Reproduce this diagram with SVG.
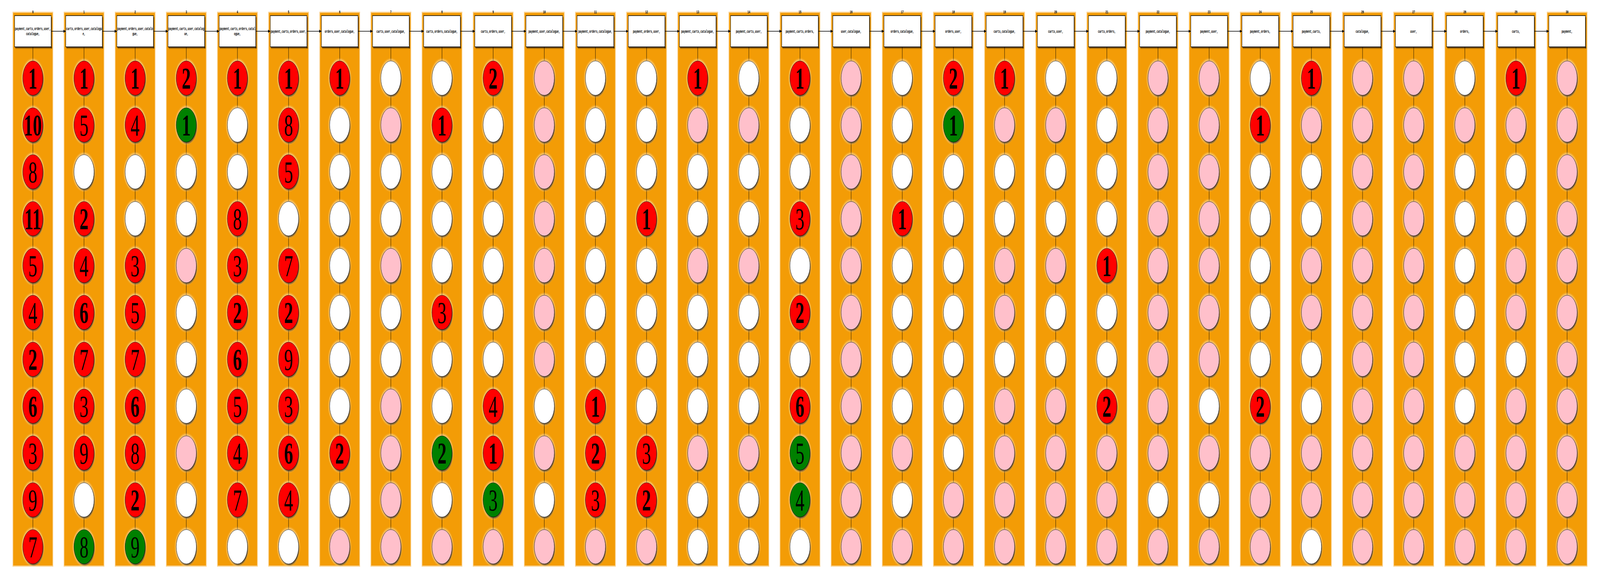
<svg xmlns="http://www.w3.org/2000/svg" xmlns:xlink="http://www.w3.org/1999/xlink" width="7008" height="1480" viewBox="0 0 7008 1480" preserveAspectRatio="none">
<defs>
<style>
svg:root{width:100vw;height:100vh}
.band{fill:#f39c06;stroke:#f39c06;stroke-opacity:.45;stroke-width:6}
.hd{font:bold 10px "Liberation Mono",monospace;text-anchor:middle;fill:#000}
.bx rect.f{fill:#fff;stroke:#000;stroke-width:1.5}
.bx text{font:bold 10px "Liberation Mono",monospace;text-anchor:middle;fill:#000}
.c circle.n{stroke:#000;stroke-width:1}
.r{fill:#ff0000}.g{fill:#008000}.p{fill:#ffc0cb}.w{fill:#ffffff}
.c text{font:78px "Liberation Serif",serif;text-anchor:middle;fill:#000}
.c text.b{font-weight:bold}
.cn{stroke:#000;stroke-width:1;fill:none}
.ar{stroke:#000;stroke-width:1.5;fill:none;marker-end:url(#ah)}
</style>
<radialGradient id="sg"><stop offset=".82" stop-color="#000" stop-opacity=".85"/><stop offset="1" stop-color="#000" stop-opacity="0"/></radialGradient>
<radialGradient id="gl"><stop offset=".84" stop-color="#fff" stop-opacity=".5"/><stop offset="1" stop-color="#fff" stop-opacity="0"/></radialGradient>
<linearGradient id="bsv" x1="0" y1="0" x2="0" y2="1"><stop offset="0" stop-color="#000" stop-opacity=".8"/><stop offset="1" stop-color="#000" stop-opacity="0"/></linearGradient>
<linearGradient id="bsh" x1="0" y1="0" x2="1" y2="0"><stop offset="0" stop-color="#000" stop-opacity=".8"/><stop offset="1" stop-color="#000" stop-opacity="0"/></linearGradient>
<g id="shc"><circle r="52" fill="url(#gl)"/><circle cx="3" cy="4" r="46" fill="url(#sg)"/></g>
<g id="shb"><rect x="-77" y="120" width="160" height="6" fill="url(#bsv)"/><rect x="80" y="44" width="5" height="80" fill="url(#bsh)"/></g>
<marker id="ah" viewBox="0 0 10 8" refX="10" refY="4" markerWidth="10" markerHeight="8" markerUnits="userSpaceOnUse" orient="auto"><path d="M0 0L10 4L0 8z" fill="#000"/></marker>
</defs>
<rect width="7008" height="1480" fill="#fff"/>
<g id="clusters">
<g id="cl0"><rect class="band" x="58" y="33" width="172" height="1415"/><text class="hd" x="144" y="34">0</text></g>
<g id="cl1"><rect class="band" x="282" y="33" width="172" height="1415"/><text class="hd" x="368" y="34">1</text></g>
<g id="cl2"><rect class="band" x="506" y="33" width="172" height="1415"/><text class="hd" x="592" y="34">2</text></g>
<g id="cl3"><rect class="band" x="730" y="33" width="172" height="1415"/><text class="hd" x="816" y="34">3</text></g>
<g id="cl4"><rect class="band" x="954" y="33" width="172" height="1415"/><text class="hd" x="1040" y="34">4</text></g>
<g id="cl5"><rect class="band" x="1178" y="33" width="172" height="1415"/><text class="hd" x="1264" y="34">5</text></g>
<g id="cl6"><rect class="band" x="1402" y="33" width="172" height="1415"/><text class="hd" x="1488" y="34">6</text></g>
<g id="cl7"><rect class="band" x="1626" y="33" width="172" height="1415"/><text class="hd" x="1712" y="34">7</text></g>
<g id="cl8"><rect class="band" x="1850" y="33" width="172" height="1415"/><text class="hd" x="1936" y="34">8</text></g>
<g id="cl9"><rect class="band" x="2074" y="33" width="172" height="1415"/><text class="hd" x="2160" y="34">9</text></g>
<g id="cl10"><rect class="band" x="2298" y="33" width="172" height="1415"/><text class="hd" x="2384" y="34">10</text></g>
<g id="cl11"><rect class="band" x="2522" y="33" width="172" height="1415"/><text class="hd" x="2608" y="34">11</text></g>
<g id="cl12"><rect class="band" x="2746" y="33" width="172" height="1415"/><text class="hd" x="2832" y="34">12</text></g>
<g id="cl13"><rect class="band" x="2970" y="33" width="172" height="1415"/><text class="hd" x="3056" y="34">13</text></g>
<g id="cl14"><rect class="band" x="3194" y="33" width="172" height="1415"/><text class="hd" x="3280" y="34">14</text></g>
<g id="cl15"><rect class="band" x="3418" y="33" width="172" height="1415"/><text class="hd" x="3504" y="34">15</text></g>
<g id="cl16"><rect class="band" x="3642" y="33" width="172" height="1415"/><text class="hd" x="3728" y="34">16</text></g>
<g id="cl17"><rect class="band" x="3866" y="33" width="172" height="1415"/><text class="hd" x="3952" y="34">17</text></g>
<g id="cl18"><rect class="band" x="4090" y="33" width="172" height="1415"/><text class="hd" x="4176" y="34">18</text></g>
<g id="cl19"><rect class="band" x="4314" y="33" width="172" height="1415"/><text class="hd" x="4400" y="34">19</text></g>
<g id="cl20"><rect class="band" x="4538" y="33" width="172" height="1415"/><text class="hd" x="4624" y="34">20</text></g>
<g id="cl21"><rect class="band" x="4762" y="33" width="172" height="1415"/><text class="hd" x="4848" y="34">21</text></g>
<g id="cl22"><rect class="band" x="4986" y="33" width="172" height="1415"/><text class="hd" x="5072" y="34">22</text></g>
<g id="cl23"><rect class="band" x="5210" y="33" width="172" height="1415"/><text class="hd" x="5296" y="34">23</text></g>
<g id="cl24"><rect class="band" x="5434" y="33" width="172" height="1415"/><text class="hd" x="5520" y="34">24</text></g>
<g id="cl25"><rect class="band" x="5658" y="33" width="172" height="1415"/><text class="hd" x="5744" y="34">25</text></g>
<g id="cl26"><rect class="band" x="5882" y="33" width="172" height="1415"/><text class="hd" x="5968" y="34">26</text></g>
<g id="cl27"><rect class="band" x="6106" y="33" width="172" height="1415"/><text class="hd" x="6192" y="34">27</text></g>
<g id="cl28"><rect class="band" x="6330" y="33" width="172" height="1415"/><text class="hd" x="6416" y="34">28</text></g>
<g id="cl29"><rect class="band" x="6554" y="33" width="172" height="1415"/><text class="hd" x="6640" y="34">29</text></g>
<g id="cl30"><rect class="band" x="6778" y="33" width="172" height="1415"/><text class="hd" x="6864" y="34">30</text></g>
</g>
<g id="connectors">
<path class="ar" d="M224 80H288"/><path class="ar" d="M448 80H512"/><path class="ar" d="M672 80H736"/><path class="ar" d="M896 80H960"/><path class="ar" d="M1120 80H1184"/><path class="ar" d="M1344 80H1408"/><path class="ar" d="M1568 80H1632"/><path class="ar" d="M1792 80H1856"/><path class="ar" d="M2016 80H2080"/><path class="ar" d="M2240 80H2304"/><path class="ar" d="M2464 80H2528"/><path class="ar" d="M2688 80H2752"/><path class="ar" d="M2912 80H2976"/><path class="ar" d="M3136 80H3200"/><path class="ar" d="M3360 80H3424"/><path class="ar" d="M3584 80H3648"/><path class="ar" d="M3808 80H3872"/><path class="ar" d="M4032 80H4096"/><path class="ar" d="M4256 80H4320"/><path class="ar" d="M4480 80H4544"/><path class="ar" d="M4704 80H4768"/><path class="ar" d="M4928 80H4992"/><path class="ar" d="M5152 80H5216"/><path class="ar" d="M5376 80H5440"/><path class="ar" d="M5600 80H5664"/><path class="ar" d="M5824 80H5888"/><path class="ar" d="M6048 80H6112"/><path class="ar" d="M6272 80H6336"/><path class="ar" d="M6496 80H6560"/><path class="ar" d="M6720 80H6784"/>
<path class="cn" d="M144 120v36m0 88v32m0 88v32m0 88v32m0 88v32m0 88v32m0 88v32m0 88v32m0 88v32m0 88v32m0 88v32"/>
<path class="cn" d="M368 120v36m0 88v32m0 88v32m0 88v32m0 88v32m0 88v32m0 88v32m0 88v32m0 88v32m0 88v32m0 88v32"/>
<path class="cn" d="M592 120v36m0 88v32m0 88v32m0 88v32m0 88v32m0 88v32m0 88v32m0 88v32m0 88v32m0 88v32m0 88v32"/>
<path class="cn" d="M816 120v36m0 88v32m0 88v32m0 88v32m0 88v32m0 88v32m0 88v32m0 88v32m0 88v32m0 88v32m0 88v32"/>
<path class="cn" d="M1040 120v36m0 88v32m0 88v32m0 88v32m0 88v32m0 88v32m0 88v32m0 88v32m0 88v32m0 88v32m0 88v32"/>
<path class="cn" d="M1264 120v36m0 88v32m0 88v32m0 88v32m0 88v32m0 88v32m0 88v32m0 88v32m0 88v32m0 88v32m0 88v32"/>
<path class="cn" d="M1488 120v36m0 88v32m0 88v32m0 88v32m0 88v32m0 88v32m0 88v32m0 88v32m0 88v32m0 88v32m0 88v32"/>
<path class="cn" d="M1712 120v36m0 88v32m0 88v32m0 88v32m0 88v32m0 88v32m0 88v32m0 88v32m0 88v32m0 88v32m0 88v32"/>
<path class="cn" d="M1936 120v36m0 88v32m0 88v32m0 88v32m0 88v32m0 88v32m0 88v32m0 88v32m0 88v32m0 88v32m0 88v32"/>
<path class="cn" d="M2160 120v36m0 88v32m0 88v32m0 88v32m0 88v32m0 88v32m0 88v32m0 88v32m0 88v32m0 88v32m0 88v32"/>
<path class="cn" d="M2384 120v36m0 88v32m0 88v32m0 88v32m0 88v32m0 88v32m0 88v32m0 88v32m0 88v32m0 88v32m0 88v32"/>
<path class="cn" d="M2608 120v36m0 88v32m0 88v32m0 88v32m0 88v32m0 88v32m0 88v32m0 88v32m0 88v32m0 88v32m0 88v32"/>
<path class="cn" d="M2832 120v36m0 88v32m0 88v32m0 88v32m0 88v32m0 88v32m0 88v32m0 88v32m0 88v32m0 88v32m0 88v32"/>
<path class="cn" d="M3056 120v36m0 88v32m0 88v32m0 88v32m0 88v32m0 88v32m0 88v32m0 88v32m0 88v32m0 88v32m0 88v32"/>
<path class="cn" d="M3280 120v36m0 88v32m0 88v32m0 88v32m0 88v32m0 88v32m0 88v32m0 88v32m0 88v32m0 88v32m0 88v32"/>
<path class="cn" d="M3504 120v36m0 88v32m0 88v32m0 88v32m0 88v32m0 88v32m0 88v32m0 88v32m0 88v32m0 88v32m0 88v32"/>
<path class="cn" d="M3728 120v36m0 88v32m0 88v32m0 88v32m0 88v32m0 88v32m0 88v32m0 88v32m0 88v32m0 88v32m0 88v32"/>
<path class="cn" d="M3952 120v36m0 88v32m0 88v32m0 88v32m0 88v32m0 88v32m0 88v32m0 88v32m0 88v32m0 88v32m0 88v32"/>
<path class="cn" d="M4176 120v36m0 88v32m0 88v32m0 88v32m0 88v32m0 88v32m0 88v32m0 88v32m0 88v32m0 88v32m0 88v32"/>
<path class="cn" d="M4400 120v36m0 88v32m0 88v32m0 88v32m0 88v32m0 88v32m0 88v32m0 88v32m0 88v32m0 88v32m0 88v32"/>
<path class="cn" d="M4624 120v36m0 88v32m0 88v32m0 88v32m0 88v32m0 88v32m0 88v32m0 88v32m0 88v32m0 88v32m0 88v32"/>
<path class="cn" d="M4848 120v36m0 88v32m0 88v32m0 88v32m0 88v32m0 88v32m0 88v32m0 88v32m0 88v32m0 88v32m0 88v32"/>
<path class="cn" d="M5072 120v36m0 88v32m0 88v32m0 88v32m0 88v32m0 88v32m0 88v32m0 88v32m0 88v32m0 88v32m0 88v32"/>
<path class="cn" d="M5296 120v36m0 88v32m0 88v32m0 88v32m0 88v32m0 88v32m0 88v32m0 88v32m0 88v32m0 88v32m0 88v32"/>
<path class="cn" d="M5520 120v36m0 88v32m0 88v32m0 88v32m0 88v32m0 88v32m0 88v32m0 88v32m0 88v32m0 88v32m0 88v32"/>
<path class="cn" d="M5744 120v36m0 88v32m0 88v32m0 88v32m0 88v32m0 88v32m0 88v32m0 88v32m0 88v32m0 88v32m0 88v32"/>
<path class="cn" d="M5968 120v36m0 88v32m0 88v32m0 88v32m0 88v32m0 88v32m0 88v32m0 88v32m0 88v32m0 88v32m0 88v32"/>
<path class="cn" d="M6192 120v36m0 88v32m0 88v32m0 88v32m0 88v32m0 88v32m0 88v32m0 88v32m0 88v32m0 88v32m0 88v32"/>
<path class="cn" d="M6416 120v36m0 88v32m0 88v32m0 88v32m0 88v32m0 88v32m0 88v32m0 88v32m0 88v32m0 88v32m0 88v32"/>
<path class="cn" d="M6640 120v36m0 88v32m0 88v32m0 88v32m0 88v32m0 88v32m0 88v32m0 88v32m0 88v32m0 88v32m0 88v32"/>
<path class="cn" d="M6864 120v36m0 88v32m0 88v32m0 88v32m0 88v32m0 88v32m0 88v32m0 88v32m0 88v32m0 88v32m0 88v32"/>
</g>
<g id="boxes">
<g id="box0" class="bx" transform="translate(144 0)"><use href="#shb" xlink:href="#shb"/><rect class="f" x="-80" y="40" width="160" height="80"/><text y="77">payment,carts,orders,user,</text><text y="90.5">catalogue,</text></g>
<g id="box1" class="bx" transform="translate(368 0)"><use href="#shb" xlink:href="#shb"/><rect class="f" x="-80" y="40" width="160" height="80"/><text y="77">carts,orders,user,catalogu</text><text y="90.5">e,</text></g>
<g id="box2" class="bx" transform="translate(592 0)"><use href="#shb" xlink:href="#shb"/><rect class="f" x="-80" y="40" width="160" height="80"/><text y="77">payment,orders,user,catalo</text><text y="90.5">gue,</text></g>
<g id="box3" class="bx" transform="translate(816 0)"><use href="#shb" xlink:href="#shb"/><rect class="f" x="-80" y="40" width="160" height="80"/><text y="77">payment,carts,user,catalog</text><text y="90.5">ue,</text></g>
<g id="box4" class="bx" transform="translate(1040 0)"><use href="#shb" xlink:href="#shb"/><rect class="f" x="-80" y="40" width="160" height="80"/><text y="77">payment,carts,orders,catal</text><text y="90.5">ogue,</text></g>
<g id="box5" class="bx" transform="translate(1264 0)"><use href="#shb" xlink:href="#shb"/><rect class="f" x="-80" y="40" width="160" height="80"/><text y="84">payment,carts,orders,user,</text></g>
<g id="box6" class="bx" transform="translate(1488 0)"><use href="#shb" xlink:href="#shb"/><rect class="f" x="-80" y="40" width="160" height="80"/><text y="84">orders,user,catalogue,</text></g>
<g id="box7" class="bx" transform="translate(1712 0)"><use href="#shb" xlink:href="#shb"/><rect class="f" x="-80" y="40" width="160" height="80"/><text y="84">carts,user,catalogue,</text></g>
<g id="box8" class="bx" transform="translate(1936 0)"><use href="#shb" xlink:href="#shb"/><rect class="f" x="-80" y="40" width="160" height="80"/><text y="84">carts,orders,catalogue,</text></g>
<g id="box9" class="bx" transform="translate(2160 0)"><use href="#shb" xlink:href="#shb"/><rect class="f" x="-80" y="40" width="160" height="80"/><text y="84">carts,orders,user,</text></g>
<g id="box10" class="bx" transform="translate(2384 0)"><use href="#shb" xlink:href="#shb"/><rect class="f" x="-80" y="40" width="160" height="80"/><text y="84">payment,user,catalogue,</text></g>
<g id="box11" class="bx" transform="translate(2608 0)"><use href="#shb" xlink:href="#shb"/><rect class="f" x="-80" y="40" width="160" height="80"/><text y="84">payment,orders,catalogue,</text></g>
<g id="box12" class="bx" transform="translate(2832 0)"><use href="#shb" xlink:href="#shb"/><rect class="f" x="-80" y="40" width="160" height="80"/><text y="84">payment,orders,user,</text></g>
<g id="box13" class="bx" transform="translate(3056 0)"><use href="#shb" xlink:href="#shb"/><rect class="f" x="-80" y="40" width="160" height="80"/><text y="84">payment,carts,catalogue,</text></g>
<g id="box14" class="bx" transform="translate(3280 0)"><use href="#shb" xlink:href="#shb"/><rect class="f" x="-80" y="40" width="160" height="80"/><text y="84">payment,carts,user,</text></g>
<g id="box15" class="bx" transform="translate(3504 0)"><use href="#shb" xlink:href="#shb"/><rect class="f" x="-80" y="40" width="160" height="80"/><text y="84">payment,carts,orders,</text></g>
<g id="box16" class="bx" transform="translate(3728 0)"><use href="#shb" xlink:href="#shb"/><rect class="f" x="-80" y="40" width="160" height="80"/><text y="84">user,catalogue,</text></g>
<g id="box17" class="bx" transform="translate(3952 0)"><use href="#shb" xlink:href="#shb"/><rect class="f" x="-80" y="40" width="160" height="80"/><text y="84">orders,catalogue,</text></g>
<g id="box18" class="bx" transform="translate(4176 0)"><use href="#shb" xlink:href="#shb"/><rect class="f" x="-80" y="40" width="160" height="80"/><text y="84">orders,user,</text></g>
<g id="box19" class="bx" transform="translate(4400 0)"><use href="#shb" xlink:href="#shb"/><rect class="f" x="-80" y="40" width="160" height="80"/><text y="84">carts,catalogue,</text></g>
<g id="box20" class="bx" transform="translate(4624 0)"><use href="#shb" xlink:href="#shb"/><rect class="f" x="-80" y="40" width="160" height="80"/><text y="84">carts,user,</text></g>
<g id="box21" class="bx" transform="translate(4848 0)"><use href="#shb" xlink:href="#shb"/><rect class="f" x="-80" y="40" width="160" height="80"/><text y="84">carts,orders,</text></g>
<g id="box22" class="bx" transform="translate(5072 0)"><use href="#shb" xlink:href="#shb"/><rect class="f" x="-80" y="40" width="160" height="80"/><text y="84">payment,catalogue,</text></g>
<g id="box23" class="bx" transform="translate(5296 0)"><use href="#shb" xlink:href="#shb"/><rect class="f" x="-80" y="40" width="160" height="80"/><text y="84">payment,user,</text></g>
<g id="box24" class="bx" transform="translate(5520 0)"><use href="#shb" xlink:href="#shb"/><rect class="f" x="-80" y="40" width="160" height="80"/><text y="84">payment,orders,</text></g>
<g id="box25" class="bx" transform="translate(5744 0)"><use href="#shb" xlink:href="#shb"/><rect class="f" x="-80" y="40" width="160" height="80"/><text y="84">payment,carts,</text></g>
<g id="box26" class="bx" transform="translate(5968 0)"><use href="#shb" xlink:href="#shb"/><rect class="f" x="-80" y="40" width="160" height="80"/><text y="84">catalogue,</text></g>
<g id="box27" class="bx" transform="translate(6192 0)"><use href="#shb" xlink:href="#shb"/><rect class="f" x="-80" y="40" width="160" height="80"/><text y="84">user,</text></g>
<g id="box28" class="bx" transform="translate(6416 0)"><use href="#shb" xlink:href="#shb"/><rect class="f" x="-80" y="40" width="160" height="80"/><text y="84">orders,</text></g>
<g id="box29" class="bx" transform="translate(6640 0)"><use href="#shb" xlink:href="#shb"/><rect class="f" x="-80" y="40" width="160" height="80"/><text y="84">carts,</text></g>
<g id="box30" class="bx" transform="translate(6864 0)"><use href="#shb" xlink:href="#shb"/><rect class="f" x="-80" y="40" width="160" height="80"/><text y="84">payment,</text></g>
</g>
<g id="circles">
<g id="n0-0" class="c" transform="translate(144 200)"><use href="#shc" xlink:href="#shc"/><circle class="n r" r="44"/><text class="b" y="27">1</text></g>
<g id="n0-1" class="c" transform="translate(144 320)"><use href="#shc" xlink:href="#shc"/><circle class="n r" r="44"/><text class="b" y="27">10</text></g>
<g id="n0-2" class="c" transform="translate(144 440)"><use href="#shc" xlink:href="#shc"/><circle class="n r" r="44"/><text y="27">8</text></g>
<g id="n0-3" class="c" transform="translate(144 560)"><use href="#shc" xlink:href="#shc"/><circle class="n r" r="44"/><text class="b" y="27">11</text></g>
<g id="n0-4" class="c" transform="translate(144 680)"><use href="#shc" xlink:href="#shc"/><circle class="n r" r="44"/><text y="27">5</text></g>
<g id="n0-5" class="c" transform="translate(144 800)"><use href="#shc" xlink:href="#shc"/><circle class="n r" r="44"/><text y="27">4</text></g>
<g id="n0-6" class="c" transform="translate(144 920)"><use href="#shc" xlink:href="#shc"/><circle class="n r" r="44"/><text class="b" y="27">2</text></g>
<g id="n0-7" class="c" transform="translate(144 1040)"><use href="#shc" xlink:href="#shc"/><circle class="n r" r="44"/><text class="b" y="27">6</text></g>
<g id="n0-8" class="c" transform="translate(144 1160)"><use href="#shc" xlink:href="#shc"/><circle class="n r" r="44"/><text y="27">3</text></g>
<g id="n0-9" class="c" transform="translate(144 1280)"><use href="#shc" xlink:href="#shc"/><circle class="n r" r="44"/><text y="27">9</text></g>
<g id="n0-10" class="c" transform="translate(144 1400)"><use href="#shc" xlink:href="#shc"/><circle class="n r" r="44"/><text y="27">7</text></g>
<g id="n1-0" class="c" transform="translate(368 200)"><use href="#shc" xlink:href="#shc"/><circle class="n r" r="44"/><text class="b" y="27">1</text></g>
<g id="n1-1" class="c" transform="translate(368 320)"><use href="#shc" xlink:href="#shc"/><circle class="n r" r="44"/><text y="27">5</text></g>
<g id="n1-2" class="c" transform="translate(368 440)"><use href="#shc" xlink:href="#shc"/><circle class="n w" r="44"/></g>
<g id="n1-3" class="c" transform="translate(368 560)"><use href="#shc" xlink:href="#shc"/><circle class="n r" r="44"/><text class="b" y="27">2</text></g>
<g id="n1-4" class="c" transform="translate(368 680)"><use href="#shc" xlink:href="#shc"/><circle class="n r" r="44"/><text y="27">4</text></g>
<g id="n1-5" class="c" transform="translate(368 800)"><use href="#shc" xlink:href="#shc"/><circle class="n r" r="44"/><text class="b" y="27">6</text></g>
<g id="n1-6" class="c" transform="translate(368 920)"><use href="#shc" xlink:href="#shc"/><circle class="n r" r="44"/><text y="27">7</text></g>
<g id="n1-7" class="c" transform="translate(368 1040)"><use href="#shc" xlink:href="#shc"/><circle class="n r" r="44"/><text y="27">3</text></g>
<g id="n1-8" class="c" transform="translate(368 1160)"><use href="#shc" xlink:href="#shc"/><circle class="n r" r="44"/><text y="27">9</text></g>
<g id="n1-9" class="c" transform="translate(368 1280)"><use href="#shc" xlink:href="#shc"/><circle class="n w" r="44"/></g>
<g id="n1-10" class="c" transform="translate(368 1400)"><use href="#shc" xlink:href="#shc"/><circle class="n g" r="44"/><text y="27">8</text></g>
<g id="n2-0" class="c" transform="translate(592 200)"><use href="#shc" xlink:href="#shc"/><circle class="n r" r="44"/><text class="b" y="27">1</text></g>
<g id="n2-1" class="c" transform="translate(592 320)"><use href="#shc" xlink:href="#shc"/><circle class="n r" r="44"/><text y="27">4</text></g>
<g id="n2-2" class="c" transform="translate(592 440)"><use href="#shc" xlink:href="#shc"/><circle class="n w" r="44"/></g>
<g id="n2-3" class="c" transform="translate(592 560)"><use href="#shc" xlink:href="#shc"/><circle class="n w" r="44"/></g>
<g id="n2-4" class="c" transform="translate(592 680)"><use href="#shc" xlink:href="#shc"/><circle class="n r" r="44"/><text y="27">3</text></g>
<g id="n2-5" class="c" transform="translate(592 800)"><use href="#shc" xlink:href="#shc"/><circle class="n r" r="44"/><text y="27">5</text></g>
<g id="n2-6" class="c" transform="translate(592 920)"><use href="#shc" xlink:href="#shc"/><circle class="n r" r="44"/><text y="27">7</text></g>
<g id="n2-7" class="c" transform="translate(592 1040)"><use href="#shc" xlink:href="#shc"/><circle class="n r" r="44"/><text class="b" y="27">6</text></g>
<g id="n2-8" class="c" transform="translate(592 1160)"><use href="#shc" xlink:href="#shc"/><circle class="n r" r="44"/><text y="27">8</text></g>
<g id="n2-9" class="c" transform="translate(592 1280)"><use href="#shc" xlink:href="#shc"/><circle class="n r" r="44"/><text class="b" y="27">2</text></g>
<g id="n2-10" class="c" transform="translate(592 1400)"><use href="#shc" xlink:href="#shc"/><circle class="n g" r="44"/><text y="27">9</text></g>
<g id="n3-0" class="c" transform="translate(816 200)"><use href="#shc" xlink:href="#shc"/><circle class="n r" r="44"/><text class="b" y="27">2</text></g>
<g id="n3-1" class="c" transform="translate(816 320)"><use href="#shc" xlink:href="#shc"/><circle class="n g" r="44"/><text class="b" y="27">1</text></g>
<g id="n3-2" class="c" transform="translate(816 440)"><use href="#shc" xlink:href="#shc"/><circle class="n w" r="44"/></g>
<g id="n3-3" class="c" transform="translate(816 560)"><use href="#shc" xlink:href="#shc"/><circle class="n w" r="44"/></g>
<g id="n3-4" class="c" transform="translate(816 680)"><use href="#shc" xlink:href="#shc"/><circle class="n p" r="44"/></g>
<g id="n3-5" class="c" transform="translate(816 800)"><use href="#shc" xlink:href="#shc"/><circle class="n w" r="44"/></g>
<g id="n3-6" class="c" transform="translate(816 920)"><use href="#shc" xlink:href="#shc"/><circle class="n w" r="44"/></g>
<g id="n3-7" class="c" transform="translate(816 1040)"><use href="#shc" xlink:href="#shc"/><circle class="n w" r="44"/></g>
<g id="n3-8" class="c" transform="translate(816 1160)"><use href="#shc" xlink:href="#shc"/><circle class="n p" r="44"/></g>
<g id="n3-9" class="c" transform="translate(816 1280)"><use href="#shc" xlink:href="#shc"/><circle class="n w" r="44"/></g>
<g id="n3-10" class="c" transform="translate(816 1400)"><use href="#shc" xlink:href="#shc"/><circle class="n w" r="44"/></g>
<g id="n4-0" class="c" transform="translate(1040 200)"><use href="#shc" xlink:href="#shc"/><circle class="n r" r="44"/><text class="b" y="27">1</text></g>
<g id="n4-1" class="c" transform="translate(1040 320)"><use href="#shc" xlink:href="#shc"/><circle class="n w" r="44"/></g>
<g id="n4-2" class="c" transform="translate(1040 440)"><use href="#shc" xlink:href="#shc"/><circle class="n w" r="44"/></g>
<g id="n4-3" class="c" transform="translate(1040 560)"><use href="#shc" xlink:href="#shc"/><circle class="n r" r="44"/><text y="27">8</text></g>
<g id="n4-4" class="c" transform="translate(1040 680)"><use href="#shc" xlink:href="#shc"/><circle class="n r" r="44"/><text y="27">3</text></g>
<g id="n4-5" class="c" transform="translate(1040 800)"><use href="#shc" xlink:href="#shc"/><circle class="n r" r="44"/><text class="b" y="27">2</text></g>
<g id="n4-6" class="c" transform="translate(1040 920)"><use href="#shc" xlink:href="#shc"/><circle class="n r" r="44"/><text class="b" y="27">6</text></g>
<g id="n4-7" class="c" transform="translate(1040 1040)"><use href="#shc" xlink:href="#shc"/><circle class="n r" r="44"/><text y="27">5</text></g>
<g id="n4-8" class="c" transform="translate(1040 1160)"><use href="#shc" xlink:href="#shc"/><circle class="n r" r="44"/><text y="27">4</text></g>
<g id="n4-9" class="c" transform="translate(1040 1280)"><use href="#shc" xlink:href="#shc"/><circle class="n r" r="44"/><text y="27">7</text></g>
<g id="n4-10" class="c" transform="translate(1040 1400)"><use href="#shc" xlink:href="#shc"/><circle class="n w" r="44"/></g>
<g id="n5-0" class="c" transform="translate(1264 200)"><use href="#shc" xlink:href="#shc"/><circle class="n r" r="44"/><text class="b" y="27">1</text></g>
<g id="n5-1" class="c" transform="translate(1264 320)"><use href="#shc" xlink:href="#shc"/><circle class="n r" r="44"/><text y="27">8</text></g>
<g id="n5-2" class="c" transform="translate(1264 440)"><use href="#shc" xlink:href="#shc"/><circle class="n r" r="44"/><text y="27">5</text></g>
<g id="n5-3" class="c" transform="translate(1264 560)"><use href="#shc" xlink:href="#shc"/><circle class="n w" r="44"/></g>
<g id="n5-4" class="c" transform="translate(1264 680)"><use href="#shc" xlink:href="#shc"/><circle class="n r" r="44"/><text y="27">7</text></g>
<g id="n5-5" class="c" transform="translate(1264 800)"><use href="#shc" xlink:href="#shc"/><circle class="n r" r="44"/><text class="b" y="27">2</text></g>
<g id="n5-6" class="c" transform="translate(1264 920)"><use href="#shc" xlink:href="#shc"/><circle class="n r" r="44"/><text y="27">9</text></g>
<g id="n5-7" class="c" transform="translate(1264 1040)"><use href="#shc" xlink:href="#shc"/><circle class="n r" r="44"/><text y="27">3</text></g>
<g id="n5-8" class="c" transform="translate(1264 1160)"><use href="#shc" xlink:href="#shc"/><circle class="n r" r="44"/><text class="b" y="27">6</text></g>
<g id="n5-9" class="c" transform="translate(1264 1280)"><use href="#shc" xlink:href="#shc"/><circle class="n r" r="44"/><text y="27">4</text></g>
<g id="n5-10" class="c" transform="translate(1264 1400)"><use href="#shc" xlink:href="#shc"/><circle class="n w" r="44"/></g>
<g id="n6-0" class="c" transform="translate(1488 200)"><use href="#shc" xlink:href="#shc"/><circle class="n r" r="44"/><text class="b" y="27">1</text></g>
<g id="n6-1" class="c" transform="translate(1488 320)"><use href="#shc" xlink:href="#shc"/><circle class="n w" r="44"/></g>
<g id="n6-2" class="c" transform="translate(1488 440)"><use href="#shc" xlink:href="#shc"/><circle class="n w" r="44"/></g>
<g id="n6-3" class="c" transform="translate(1488 560)"><use href="#shc" xlink:href="#shc"/><circle class="n w" r="44"/></g>
<g id="n6-4" class="c" transform="translate(1488 680)"><use href="#shc" xlink:href="#shc"/><circle class="n w" r="44"/></g>
<g id="n6-5" class="c" transform="translate(1488 800)"><use href="#shc" xlink:href="#shc"/><circle class="n w" r="44"/></g>
<g id="n6-6" class="c" transform="translate(1488 920)"><use href="#shc" xlink:href="#shc"/><circle class="n w" r="44"/></g>
<g id="n6-7" class="c" transform="translate(1488 1040)"><use href="#shc" xlink:href="#shc"/><circle class="n w" r="44"/></g>
<g id="n6-8" class="c" transform="translate(1488 1160)"><use href="#shc" xlink:href="#shc"/><circle class="n r" r="44"/><text class="b" y="27">2</text></g>
<g id="n6-9" class="c" transform="translate(1488 1280)"><use href="#shc" xlink:href="#shc"/><circle class="n w" r="44"/></g>
<g id="n6-10" class="c" transform="translate(1488 1400)"><use href="#shc" xlink:href="#shc"/><circle class="n p" r="44"/></g>
<g id="n7-0" class="c" transform="translate(1712 200)"><use href="#shc" xlink:href="#shc"/><circle class="n w" r="44"/></g>
<g id="n7-1" class="c" transform="translate(1712 320)"><use href="#shc" xlink:href="#shc"/><circle class="n p" r="44"/></g>
<g id="n7-2" class="c" transform="translate(1712 440)"><use href="#shc" xlink:href="#shc"/><circle class="n w" r="44"/></g>
<g id="n7-3" class="c" transform="translate(1712 560)"><use href="#shc" xlink:href="#shc"/><circle class="n w" r="44"/></g>
<g id="n7-4" class="c" transform="translate(1712 680)"><use href="#shc" xlink:href="#shc"/><circle class="n p" r="44"/></g>
<g id="n7-5" class="c" transform="translate(1712 800)"><use href="#shc" xlink:href="#shc"/><circle class="n w" r="44"/></g>
<g id="n7-6" class="c" transform="translate(1712 920)"><use href="#shc" xlink:href="#shc"/><circle class="n w" r="44"/></g>
<g id="n7-7" class="c" transform="translate(1712 1040)"><use href="#shc" xlink:href="#shc"/><circle class="n p" r="44"/></g>
<g id="n7-8" class="c" transform="translate(1712 1160)"><use href="#shc" xlink:href="#shc"/><circle class="n p" r="44"/></g>
<g id="n7-9" class="c" transform="translate(1712 1280)"><use href="#shc" xlink:href="#shc"/><circle class="n p" r="44"/></g>
<g id="n7-10" class="c" transform="translate(1712 1400)"><use href="#shc" xlink:href="#shc"/><circle class="n p" r="44"/></g>
<g id="n8-0" class="c" transform="translate(1936 200)"><use href="#shc" xlink:href="#shc"/><circle class="n w" r="44"/></g>
<g id="n8-1" class="c" transform="translate(1936 320)"><use href="#shc" xlink:href="#shc"/><circle class="n r" r="44"/><text class="b" y="27">1</text></g>
<g id="n8-2" class="c" transform="translate(1936 440)"><use href="#shc" xlink:href="#shc"/><circle class="n w" r="44"/></g>
<g id="n8-3" class="c" transform="translate(1936 560)"><use href="#shc" xlink:href="#shc"/><circle class="n w" r="44"/></g>
<g id="n8-4" class="c" transform="translate(1936 680)"><use href="#shc" xlink:href="#shc"/><circle class="n w" r="44"/></g>
<g id="n8-5" class="c" transform="translate(1936 800)"><use href="#shc" xlink:href="#shc"/><circle class="n r" r="44"/><text y="27">3</text></g>
<g id="n8-6" class="c" transform="translate(1936 920)"><use href="#shc" xlink:href="#shc"/><circle class="n w" r="44"/></g>
<g id="n8-7" class="c" transform="translate(1936 1040)"><use href="#shc" xlink:href="#shc"/><circle class="n w" r="44"/></g>
<g id="n8-8" class="c" transform="translate(1936 1160)"><use href="#shc" xlink:href="#shc"/><circle class="n g" r="44"/><text class="b" y="27">2</text></g>
<g id="n8-9" class="c" transform="translate(1936 1280)"><use href="#shc" xlink:href="#shc"/><circle class="n w" r="44"/></g>
<g id="n8-10" class="c" transform="translate(1936 1400)"><use href="#shc" xlink:href="#shc"/><circle class="n p" r="44"/></g>
<g id="n9-0" class="c" transform="translate(2160 200)"><use href="#shc" xlink:href="#shc"/><circle class="n r" r="44"/><text class="b" y="27">2</text></g>
<g id="n9-1" class="c" transform="translate(2160 320)"><use href="#shc" xlink:href="#shc"/><circle class="n w" r="44"/></g>
<g id="n9-2" class="c" transform="translate(2160 440)"><use href="#shc" xlink:href="#shc"/><circle class="n w" r="44"/></g>
<g id="n9-3" class="c" transform="translate(2160 560)"><use href="#shc" xlink:href="#shc"/><circle class="n w" r="44"/></g>
<g id="n9-4" class="c" transform="translate(2160 680)"><use href="#shc" xlink:href="#shc"/><circle class="n w" r="44"/></g>
<g id="n9-5" class="c" transform="translate(2160 800)"><use href="#shc" xlink:href="#shc"/><circle class="n w" r="44"/></g>
<g id="n9-6" class="c" transform="translate(2160 920)"><use href="#shc" xlink:href="#shc"/><circle class="n w" r="44"/></g>
<g id="n9-7" class="c" transform="translate(2160 1040)"><use href="#shc" xlink:href="#shc"/><circle class="n r" r="44"/><text y="27">4</text></g>
<g id="n9-8" class="c" transform="translate(2160 1160)"><use href="#shc" xlink:href="#shc"/><circle class="n r" r="44"/><text class="b" y="27">1</text></g>
<g id="n9-9" class="c" transform="translate(2160 1280)"><use href="#shc" xlink:href="#shc"/><circle class="n g" r="44"/><text y="27">3</text></g>
<g id="n9-10" class="c" transform="translate(2160 1400)"><use href="#shc" xlink:href="#shc"/><circle class="n p" r="44"/></g>
<g id="n10-0" class="c" transform="translate(2384 200)"><use href="#shc" xlink:href="#shc"/><circle class="n p" r="44"/></g>
<g id="n10-1" class="c" transform="translate(2384 320)"><use href="#shc" xlink:href="#shc"/><circle class="n p" r="44"/></g>
<g id="n10-2" class="c" transform="translate(2384 440)"><use href="#shc" xlink:href="#shc"/><circle class="n p" r="44"/></g>
<g id="n10-3" class="c" transform="translate(2384 560)"><use href="#shc" xlink:href="#shc"/><circle class="n p" r="44"/></g>
<g id="n10-4" class="c" transform="translate(2384 680)"><use href="#shc" xlink:href="#shc"/><circle class="n p" r="44"/></g>
<g id="n10-5" class="c" transform="translate(2384 800)"><use href="#shc" xlink:href="#shc"/><circle class="n p" r="44"/></g>
<g id="n10-6" class="c" transform="translate(2384 920)"><use href="#shc" xlink:href="#shc"/><circle class="n p" r="44"/></g>
<g id="n10-7" class="c" transform="translate(2384 1040)"><use href="#shc" xlink:href="#shc"/><circle class="n w" r="44"/></g>
<g id="n10-8" class="c" transform="translate(2384 1160)"><use href="#shc" xlink:href="#shc"/><circle class="n p" r="44"/></g>
<g id="n10-9" class="c" transform="translate(2384 1280)"><use href="#shc" xlink:href="#shc"/><circle class="n w" r="44"/></g>
<g id="n10-10" class="c" transform="translate(2384 1400)"><use href="#shc" xlink:href="#shc"/><circle class="n p" r="44"/></g>
<g id="n11-0" class="c" transform="translate(2608 200)"><use href="#shc" xlink:href="#shc"/><circle class="n w" r="44"/></g>
<g id="n11-1" class="c" transform="translate(2608 320)"><use href="#shc" xlink:href="#shc"/><circle class="n w" r="44"/></g>
<g id="n11-2" class="c" transform="translate(2608 440)"><use href="#shc" xlink:href="#shc"/><circle class="n w" r="44"/></g>
<g id="n11-3" class="c" transform="translate(2608 560)"><use href="#shc" xlink:href="#shc"/><circle class="n w" r="44"/></g>
<g id="n11-4" class="c" transform="translate(2608 680)"><use href="#shc" xlink:href="#shc"/><circle class="n w" r="44"/></g>
<g id="n11-5" class="c" transform="translate(2608 800)"><use href="#shc" xlink:href="#shc"/><circle class="n w" r="44"/></g>
<g id="n11-6" class="c" transform="translate(2608 920)"><use href="#shc" xlink:href="#shc"/><circle class="n w" r="44"/></g>
<g id="n11-7" class="c" transform="translate(2608 1040)"><use href="#shc" xlink:href="#shc"/><circle class="n r" r="44"/><text class="b" y="27">1</text></g>
<g id="n11-8" class="c" transform="translate(2608 1160)"><use href="#shc" xlink:href="#shc"/><circle class="n r" r="44"/><text class="b" y="27">2</text></g>
<g id="n11-9" class="c" transform="translate(2608 1280)"><use href="#shc" xlink:href="#shc"/><circle class="n r" r="44"/><text y="27">3</text></g>
<g id="n11-10" class="c" transform="translate(2608 1400)"><use href="#shc" xlink:href="#shc"/><circle class="n p" r="44"/></g>
<g id="n12-0" class="c" transform="translate(2832 200)"><use href="#shc" xlink:href="#shc"/><circle class="n w" r="44"/></g>
<g id="n12-1" class="c" transform="translate(2832 320)"><use href="#shc" xlink:href="#shc"/><circle class="n w" r="44"/></g>
<g id="n12-2" class="c" transform="translate(2832 440)"><use href="#shc" xlink:href="#shc"/><circle class="n w" r="44"/></g>
<g id="n12-3" class="c" transform="translate(2832 560)"><use href="#shc" xlink:href="#shc"/><circle class="n r" r="44"/><text class="b" y="27">1</text></g>
<g id="n12-4" class="c" transform="translate(2832 680)"><use href="#shc" xlink:href="#shc"/><circle class="n w" r="44"/></g>
<g id="n12-5" class="c" transform="translate(2832 800)"><use href="#shc" xlink:href="#shc"/><circle class="n w" r="44"/></g>
<g id="n12-6" class="c" transform="translate(2832 920)"><use href="#shc" xlink:href="#shc"/><circle class="n w" r="44"/></g>
<g id="n12-7" class="c" transform="translate(2832 1040)"><use href="#shc" xlink:href="#shc"/><circle class="n w" r="44"/></g>
<g id="n12-8" class="c" transform="translate(2832 1160)"><use href="#shc" xlink:href="#shc"/><circle class="n r" r="44"/><text y="27">3</text></g>
<g id="n12-9" class="c" transform="translate(2832 1280)"><use href="#shc" xlink:href="#shc"/><circle class="n r" r="44"/><text class="b" y="27">2</text></g>
<g id="n12-10" class="c" transform="translate(2832 1400)"><use href="#shc" xlink:href="#shc"/><circle class="n p" r="44"/></g>
<g id="n13-0" class="c" transform="translate(3056 200)"><use href="#shc" xlink:href="#shc"/><circle class="n r" r="44"/><text class="b" y="27">1</text></g>
<g id="n13-1" class="c" transform="translate(3056 320)"><use href="#shc" xlink:href="#shc"/><circle class="n p" r="44"/></g>
<g id="n13-2" class="c" transform="translate(3056 440)"><use href="#shc" xlink:href="#shc"/><circle class="n w" r="44"/></g>
<g id="n13-3" class="c" transform="translate(3056 560)"><use href="#shc" xlink:href="#shc"/><circle class="n w" r="44"/></g>
<g id="n13-4" class="c" transform="translate(3056 680)"><use href="#shc" xlink:href="#shc"/><circle class="n p" r="44"/></g>
<g id="n13-5" class="c" transform="translate(3056 800)"><use href="#shc" xlink:href="#shc"/><circle class="n w" r="44"/></g>
<g id="n13-6" class="c" transform="translate(3056 920)"><use href="#shc" xlink:href="#shc"/><circle class="n w" r="44"/></g>
<g id="n13-7" class="c" transform="translate(3056 1040)"><use href="#shc" xlink:href="#shc"/><circle class="n w" r="44"/></g>
<g id="n13-8" class="c" transform="translate(3056 1160)"><use href="#shc" xlink:href="#shc"/><circle class="n p" r="44"/></g>
<g id="n13-9" class="c" transform="translate(3056 1280)"><use href="#shc" xlink:href="#shc"/><circle class="n w" r="44"/></g>
<g id="n13-10" class="c" transform="translate(3056 1400)"><use href="#shc" xlink:href="#shc"/><circle class="n w" r="44"/></g>
<g id="n14-0" class="c" transform="translate(3280 200)"><use href="#shc" xlink:href="#shc"/><circle class="n w" r="44"/></g>
<g id="n14-1" class="c" transform="translate(3280 320)"><use href="#shc" xlink:href="#shc"/><circle class="n p" r="44"/></g>
<g id="n14-2" class="c" transform="translate(3280 440)"><use href="#shc" xlink:href="#shc"/><circle class="n w" r="44"/></g>
<g id="n14-3" class="c" transform="translate(3280 560)"><use href="#shc" xlink:href="#shc"/><circle class="n w" r="44"/></g>
<g id="n14-4" class="c" transform="translate(3280 680)"><use href="#shc" xlink:href="#shc"/><circle class="n p" r="44"/></g>
<g id="n14-5" class="c" transform="translate(3280 800)"><use href="#shc" xlink:href="#shc"/><circle class="n w" r="44"/></g>
<g id="n14-6" class="c" transform="translate(3280 920)"><use href="#shc" xlink:href="#shc"/><circle class="n w" r="44"/></g>
<g id="n14-7" class="c" transform="translate(3280 1040)"><use href="#shc" xlink:href="#shc"/><circle class="n w" r="44"/></g>
<g id="n14-8" class="c" transform="translate(3280 1160)"><use href="#shc" xlink:href="#shc"/><circle class="n p" r="44"/></g>
<g id="n14-9" class="c" transform="translate(3280 1280)"><use href="#shc" xlink:href="#shc"/><circle class="n w" r="44"/></g>
<g id="n14-10" class="c" transform="translate(3280 1400)"><use href="#shc" xlink:href="#shc"/><circle class="n w" r="44"/></g>
<g id="n15-0" class="c" transform="translate(3504 200)"><use href="#shc" xlink:href="#shc"/><circle class="n r" r="44"/><text class="b" y="27">1</text></g>
<g id="n15-1" class="c" transform="translate(3504 320)"><use href="#shc" xlink:href="#shc"/><circle class="n w" r="44"/></g>
<g id="n15-2" class="c" transform="translate(3504 440)"><use href="#shc" xlink:href="#shc"/><circle class="n w" r="44"/></g>
<g id="n15-3" class="c" transform="translate(3504 560)"><use href="#shc" xlink:href="#shc"/><circle class="n r" r="44"/><text y="27">3</text></g>
<g id="n15-4" class="c" transform="translate(3504 680)"><use href="#shc" xlink:href="#shc"/><circle class="n w" r="44"/></g>
<g id="n15-5" class="c" transform="translate(3504 800)"><use href="#shc" xlink:href="#shc"/><circle class="n r" r="44"/><text class="b" y="27">2</text></g>
<g id="n15-6" class="c" transform="translate(3504 920)"><use href="#shc" xlink:href="#shc"/><circle class="n w" r="44"/></g>
<g id="n15-7" class="c" transform="translate(3504 1040)"><use href="#shc" xlink:href="#shc"/><circle class="n r" r="44"/><text class="b" y="27">6</text></g>
<g id="n15-8" class="c" transform="translate(3504 1160)"><use href="#shc" xlink:href="#shc"/><circle class="n g" r="44"/><text y="27">5</text></g>
<g id="n15-9" class="c" transform="translate(3504 1280)"><use href="#shc" xlink:href="#shc"/><circle class="n g" r="44"/><text y="27">4</text></g>
<g id="n15-10" class="c" transform="translate(3504 1400)"><use href="#shc" xlink:href="#shc"/><circle class="n w" r="44"/></g>
<g id="n16-0" class="c" transform="translate(3728 200)"><use href="#shc" xlink:href="#shc"/><circle class="n p" r="44"/></g>
<g id="n16-1" class="c" transform="translate(3728 320)"><use href="#shc" xlink:href="#shc"/><circle class="n p" r="44"/></g>
<g id="n16-2" class="c" transform="translate(3728 440)"><use href="#shc" xlink:href="#shc"/><circle class="n p" r="44"/></g>
<g id="n16-3" class="c" transform="translate(3728 560)"><use href="#shc" xlink:href="#shc"/><circle class="n p" r="44"/></g>
<g id="n16-4" class="c" transform="translate(3728 680)"><use href="#shc" xlink:href="#shc"/><circle class="n p" r="44"/></g>
<g id="n16-5" class="c" transform="translate(3728 800)"><use href="#shc" xlink:href="#shc"/><circle class="n p" r="44"/></g>
<g id="n16-6" class="c" transform="translate(3728 920)"><use href="#shc" xlink:href="#shc"/><circle class="n p" r="44"/></g>
<g id="n16-7" class="c" transform="translate(3728 1040)"><use href="#shc" xlink:href="#shc"/><circle class="n p" r="44"/></g>
<g id="n16-8" class="c" transform="translate(3728 1160)"><use href="#shc" xlink:href="#shc"/><circle class="n p" r="44"/></g>
<g id="n16-9" class="c" transform="translate(3728 1280)"><use href="#shc" xlink:href="#shc"/><circle class="n p" r="44"/></g>
<g id="n16-10" class="c" transform="translate(3728 1400)"><use href="#shc" xlink:href="#shc"/><circle class="n p" r="44"/></g>
<g id="n17-0" class="c" transform="translate(3952 200)"><use href="#shc" xlink:href="#shc"/><circle class="n w" r="44"/></g>
<g id="n17-1" class="c" transform="translate(3952 320)"><use href="#shc" xlink:href="#shc"/><circle class="n w" r="44"/></g>
<g id="n17-2" class="c" transform="translate(3952 440)"><use href="#shc" xlink:href="#shc"/><circle class="n w" r="44"/></g>
<g id="n17-3" class="c" transform="translate(3952 560)"><use href="#shc" xlink:href="#shc"/><circle class="n r" r="44"/><text class="b" y="27">1</text></g>
<g id="n17-4" class="c" transform="translate(3952 680)"><use href="#shc" xlink:href="#shc"/><circle class="n w" r="44"/></g>
<g id="n17-5" class="c" transform="translate(3952 800)"><use href="#shc" xlink:href="#shc"/><circle class="n w" r="44"/></g>
<g id="n17-6" class="c" transform="translate(3952 920)"><use href="#shc" xlink:href="#shc"/><circle class="n w" r="44"/></g>
<g id="n17-7" class="c" transform="translate(3952 1040)"><use href="#shc" xlink:href="#shc"/><circle class="n w" r="44"/></g>
<g id="n17-8" class="c" transform="translate(3952 1160)"><use href="#shc" xlink:href="#shc"/><circle class="n p" r="44"/></g>
<g id="n17-9" class="c" transform="translate(3952 1280)"><use href="#shc" xlink:href="#shc"/><circle class="n w" r="44"/></g>
<g id="n17-10" class="c" transform="translate(3952 1400)"><use href="#shc" xlink:href="#shc"/><circle class="n p" r="44"/></g>
<g id="n18-0" class="c" transform="translate(4176 200)"><use href="#shc" xlink:href="#shc"/><circle class="n r" r="44"/><text class="b" y="27">2</text></g>
<g id="n18-1" class="c" transform="translate(4176 320)"><use href="#shc" xlink:href="#shc"/><circle class="n g" r="44"/><text class="b" y="27">1</text></g>
<g id="n18-2" class="c" transform="translate(4176 440)"><use href="#shc" xlink:href="#shc"/><circle class="n w" r="44"/></g>
<g id="n18-3" class="c" transform="translate(4176 560)"><use href="#shc" xlink:href="#shc"/><circle class="n w" r="44"/></g>
<g id="n18-4" class="c" transform="translate(4176 680)"><use href="#shc" xlink:href="#shc"/><circle class="n w" r="44"/></g>
<g id="n18-5" class="c" transform="translate(4176 800)"><use href="#shc" xlink:href="#shc"/><circle class="n w" r="44"/></g>
<g id="n18-6" class="c" transform="translate(4176 920)"><use href="#shc" xlink:href="#shc"/><circle class="n w" r="44"/></g>
<g id="n18-7" class="c" transform="translate(4176 1040)"><use href="#shc" xlink:href="#shc"/><circle class="n w" r="44"/></g>
<g id="n18-8" class="c" transform="translate(4176 1160)"><use href="#shc" xlink:href="#shc"/><circle class="n w" r="44"/></g>
<g id="n18-9" class="c" transform="translate(4176 1280)"><use href="#shc" xlink:href="#shc"/><circle class="n p" r="44"/></g>
<g id="n18-10" class="c" transform="translate(4176 1400)"><use href="#shc" xlink:href="#shc"/><circle class="n p" r="44"/></g>
<g id="n19-0" class="c" transform="translate(4400 200)"><use href="#shc" xlink:href="#shc"/><circle class="n r" r="44"/><text class="b" y="27">1</text></g>
<g id="n19-1" class="c" transform="translate(4400 320)"><use href="#shc" xlink:href="#shc"/><circle class="n p" r="44"/></g>
<g id="n19-2" class="c" transform="translate(4400 440)"><use href="#shc" xlink:href="#shc"/><circle class="n w" r="44"/></g>
<g id="n19-3" class="c" transform="translate(4400 560)"><use href="#shc" xlink:href="#shc"/><circle class="n w" r="44"/></g>
<g id="n19-4" class="c" transform="translate(4400 680)"><use href="#shc" xlink:href="#shc"/><circle class="n p" r="44"/></g>
<g id="n19-5" class="c" transform="translate(4400 800)"><use href="#shc" xlink:href="#shc"/><circle class="n p" r="44"/></g>
<g id="n19-6" class="c" transform="translate(4400 920)"><use href="#shc" xlink:href="#shc"/><circle class="n w" r="44"/></g>
<g id="n19-7" class="c" transform="translate(4400 1040)"><use href="#shc" xlink:href="#shc"/><circle class="n p" r="44"/></g>
<g id="n19-8" class="c" transform="translate(4400 1160)"><use href="#shc" xlink:href="#shc"/><circle class="n p" r="44"/></g>
<g id="n19-9" class="c" transform="translate(4400 1280)"><use href="#shc" xlink:href="#shc"/><circle class="n p" r="44"/></g>
<g id="n19-10" class="c" transform="translate(4400 1400)"><use href="#shc" xlink:href="#shc"/><circle class="n p" r="44"/></g>
<g id="n20-0" class="c" transform="translate(4624 200)"><use href="#shc" xlink:href="#shc"/><circle class="n w" r="44"/></g>
<g id="n20-1" class="c" transform="translate(4624 320)"><use href="#shc" xlink:href="#shc"/><circle class="n p" r="44"/></g>
<g id="n20-2" class="c" transform="translate(4624 440)"><use href="#shc" xlink:href="#shc"/><circle class="n w" r="44"/></g>
<g id="n20-3" class="c" transform="translate(4624 560)"><use href="#shc" xlink:href="#shc"/><circle class="n w" r="44"/></g>
<g id="n20-4" class="c" transform="translate(4624 680)"><use href="#shc" xlink:href="#shc"/><circle class="n p" r="44"/></g>
<g id="n20-5" class="c" transform="translate(4624 800)"><use href="#shc" xlink:href="#shc"/><circle class="n w" r="44"/></g>
<g id="n20-6" class="c" transform="translate(4624 920)"><use href="#shc" xlink:href="#shc"/><circle class="n w" r="44"/></g>
<g id="n20-7" class="c" transform="translate(4624 1040)"><use href="#shc" xlink:href="#shc"/><circle class="n p" r="44"/></g>
<g id="n20-8" class="c" transform="translate(4624 1160)"><use href="#shc" xlink:href="#shc"/><circle class="n p" r="44"/></g>
<g id="n20-9" class="c" transform="translate(4624 1280)"><use href="#shc" xlink:href="#shc"/><circle class="n p" r="44"/></g>
<g id="n20-10" class="c" transform="translate(4624 1400)"><use href="#shc" xlink:href="#shc"/><circle class="n p" r="44"/></g>
<g id="n21-0" class="c" transform="translate(4848 200)"><use href="#shc" xlink:href="#shc"/><circle class="n w" r="44"/></g>
<g id="n21-1" class="c" transform="translate(4848 320)"><use href="#shc" xlink:href="#shc"/><circle class="n w" r="44"/></g>
<g id="n21-2" class="c" transform="translate(4848 440)"><use href="#shc" xlink:href="#shc"/><circle class="n w" r="44"/></g>
<g id="n21-3" class="c" transform="translate(4848 560)"><use href="#shc" xlink:href="#shc"/><circle class="n w" r="44"/></g>
<g id="n21-4" class="c" transform="translate(4848 680)"><use href="#shc" xlink:href="#shc"/><circle class="n r" r="44"/><text class="b" y="27">1</text></g>
<g id="n21-5" class="c" transform="translate(4848 800)"><use href="#shc" xlink:href="#shc"/><circle class="n w" r="44"/></g>
<g id="n21-6" class="c" transform="translate(4848 920)"><use href="#shc" xlink:href="#shc"/><circle class="n w" r="44"/></g>
<g id="n21-7" class="c" transform="translate(4848 1040)"><use href="#shc" xlink:href="#shc"/><circle class="n r" r="44"/><text class="b" y="27">2</text></g>
<g id="n21-8" class="c" transform="translate(4848 1160)"><use href="#shc" xlink:href="#shc"/><circle class="n p" r="44"/></g>
<g id="n21-9" class="c" transform="translate(4848 1280)"><use href="#shc" xlink:href="#shc"/><circle class="n p" r="44"/></g>
<g id="n21-10" class="c" transform="translate(4848 1400)"><use href="#shc" xlink:href="#shc"/><circle class="n p" r="44"/></g>
<g id="n22-0" class="c" transform="translate(5072 200)"><use href="#shc" xlink:href="#shc"/><circle class="n p" r="44"/></g>
<g id="n22-1" class="c" transform="translate(5072 320)"><use href="#shc" xlink:href="#shc"/><circle class="n p" r="44"/></g>
<g id="n22-2" class="c" transform="translate(5072 440)"><use href="#shc" xlink:href="#shc"/><circle class="n p" r="44"/></g>
<g id="n22-3" class="c" transform="translate(5072 560)"><use href="#shc" xlink:href="#shc"/><circle class="n p" r="44"/></g>
<g id="n22-4" class="c" transform="translate(5072 680)"><use href="#shc" xlink:href="#shc"/><circle class="n p" r="44"/></g>
<g id="n22-5" class="c" transform="translate(5072 800)"><use href="#shc" xlink:href="#shc"/><circle class="n p" r="44"/></g>
<g id="n22-6" class="c" transform="translate(5072 920)"><use href="#shc" xlink:href="#shc"/><circle class="n p" r="44"/></g>
<g id="n22-7" class="c" transform="translate(5072 1040)"><use href="#shc" xlink:href="#shc"/><circle class="n p" r="44"/></g>
<g id="n22-8" class="c" transform="translate(5072 1160)"><use href="#shc" xlink:href="#shc"/><circle class="n p" r="44"/></g>
<g id="n22-9" class="c" transform="translate(5072 1280)"><use href="#shc" xlink:href="#shc"/><circle class="n w" r="44"/></g>
<g id="n22-10" class="c" transform="translate(5072 1400)"><use href="#shc" xlink:href="#shc"/><circle class="n p" r="44"/></g>
<g id="n23-0" class="c" transform="translate(5296 200)"><use href="#shc" xlink:href="#shc"/><circle class="n p" r="44"/></g>
<g id="n23-1" class="c" transform="translate(5296 320)"><use href="#shc" xlink:href="#shc"/><circle class="n p" r="44"/></g>
<g id="n23-2" class="c" transform="translate(5296 440)"><use href="#shc" xlink:href="#shc"/><circle class="n p" r="44"/></g>
<g id="n23-3" class="c" transform="translate(5296 560)"><use href="#shc" xlink:href="#shc"/><circle class="n p" r="44"/></g>
<g id="n23-4" class="c" transform="translate(5296 680)"><use href="#shc" xlink:href="#shc"/><circle class="n p" r="44"/></g>
<g id="n23-5" class="c" transform="translate(5296 800)"><use href="#shc" xlink:href="#shc"/><circle class="n p" r="44"/></g>
<g id="n23-6" class="c" transform="translate(5296 920)"><use href="#shc" xlink:href="#shc"/><circle class="n p" r="44"/></g>
<g id="n23-7" class="c" transform="translate(5296 1040)"><use href="#shc" xlink:href="#shc"/><circle class="n w" r="44"/></g>
<g id="n23-8" class="c" transform="translate(5296 1160)"><use href="#shc" xlink:href="#shc"/><circle class="n p" r="44"/></g>
<g id="n23-9" class="c" transform="translate(5296 1280)"><use href="#shc" xlink:href="#shc"/><circle class="n w" r="44"/></g>
<g id="n23-10" class="c" transform="translate(5296 1400)"><use href="#shc" xlink:href="#shc"/><circle class="n p" r="44"/></g>
<g id="n24-0" class="c" transform="translate(5520 200)"><use href="#shc" xlink:href="#shc"/><circle class="n w" r="44"/></g>
<g id="n24-1" class="c" transform="translate(5520 320)"><use href="#shc" xlink:href="#shc"/><circle class="n r" r="44"/><text class="b" y="27">1</text></g>
<g id="n24-2" class="c" transform="translate(5520 440)"><use href="#shc" xlink:href="#shc"/><circle class="n w" r="44"/></g>
<g id="n24-3" class="c" transform="translate(5520 560)"><use href="#shc" xlink:href="#shc"/><circle class="n w" r="44"/></g>
<g id="n24-4" class="c" transform="translate(5520 680)"><use href="#shc" xlink:href="#shc"/><circle class="n w" r="44"/></g>
<g id="n24-5" class="c" transform="translate(5520 800)"><use href="#shc" xlink:href="#shc"/><circle class="n w" r="44"/></g>
<g id="n24-6" class="c" transform="translate(5520 920)"><use href="#shc" xlink:href="#shc"/><circle class="n w" r="44"/></g>
<g id="n24-7" class="c" transform="translate(5520 1040)"><use href="#shc" xlink:href="#shc"/><circle class="n r" r="44"/><text class="b" y="27">2</text></g>
<g id="n24-8" class="c" transform="translate(5520 1160)"><use href="#shc" xlink:href="#shc"/><circle class="n p" r="44"/></g>
<g id="n24-9" class="c" transform="translate(5520 1280)"><use href="#shc" xlink:href="#shc"/><circle class="n p" r="44"/></g>
<g id="n24-10" class="c" transform="translate(5520 1400)"><use href="#shc" xlink:href="#shc"/><circle class="n p" r="44"/></g>
<g id="n25-0" class="c" transform="translate(5744 200)"><use href="#shc" xlink:href="#shc"/><circle class="n r" r="44"/><text class="b" y="27">1</text></g>
<g id="n25-1" class="c" transform="translate(5744 320)"><use href="#shc" xlink:href="#shc"/><circle class="n p" r="44"/></g>
<g id="n25-2" class="c" transform="translate(5744 440)"><use href="#shc" xlink:href="#shc"/><circle class="n w" r="44"/></g>
<g id="n25-3" class="c" transform="translate(5744 560)"><use href="#shc" xlink:href="#shc"/><circle class="n w" r="44"/></g>
<g id="n25-4" class="c" transform="translate(5744 680)"><use href="#shc" xlink:href="#shc"/><circle class="n p" r="44"/></g>
<g id="n25-5" class="c" transform="translate(5744 800)"><use href="#shc" xlink:href="#shc"/><circle class="n p" r="44"/></g>
<g id="n25-6" class="c" transform="translate(5744 920)"><use href="#shc" xlink:href="#shc"/><circle class="n w" r="44"/></g>
<g id="n25-7" class="c" transform="translate(5744 1040)"><use href="#shc" xlink:href="#shc"/><circle class="n w" r="44"/></g>
<g id="n25-8" class="c" transform="translate(5744 1160)"><use href="#shc" xlink:href="#shc"/><circle class="n p" r="44"/></g>
<g id="n25-9" class="c" transform="translate(5744 1280)"><use href="#shc" xlink:href="#shc"/><circle class="n p" r="44"/></g>
<g id="n25-10" class="c" transform="translate(5744 1400)"><use href="#shc" xlink:href="#shc"/><circle class="n w" r="44"/></g>
<g id="n26-0" class="c" transform="translate(5968 200)"><use href="#shc" xlink:href="#shc"/><circle class="n p" r="44"/></g>
<g id="n26-1" class="c" transform="translate(5968 320)"><use href="#shc" xlink:href="#shc"/><circle class="n p" r="44"/></g>
<g id="n26-2" class="c" transform="translate(5968 440)"><use href="#shc" xlink:href="#shc"/><circle class="n p" r="44"/></g>
<g id="n26-3" class="c" transform="translate(5968 560)"><use href="#shc" xlink:href="#shc"/><circle class="n p" r="44"/></g>
<g id="n26-4" class="c" transform="translate(5968 680)"><use href="#shc" xlink:href="#shc"/><circle class="n p" r="44"/></g>
<g id="n26-5" class="c" transform="translate(5968 800)"><use href="#shc" xlink:href="#shc"/><circle class="n p" r="44"/></g>
<g id="n26-6" class="c" transform="translate(5968 920)"><use href="#shc" xlink:href="#shc"/><circle class="n p" r="44"/></g>
<g id="n26-7" class="c" transform="translate(5968 1040)"><use href="#shc" xlink:href="#shc"/><circle class="n p" r="44"/></g>
<g id="n26-8" class="c" transform="translate(5968 1160)"><use href="#shc" xlink:href="#shc"/><circle class="n p" r="44"/></g>
<g id="n26-9" class="c" transform="translate(5968 1280)"><use href="#shc" xlink:href="#shc"/><circle class="n p" r="44"/></g>
<g id="n26-10" class="c" transform="translate(5968 1400)"><use href="#shc" xlink:href="#shc"/><circle class="n p" r="44"/></g>
<g id="n27-0" class="c" transform="translate(6192 200)"><use href="#shc" xlink:href="#shc"/><circle class="n p" r="44"/></g>
<g id="n27-1" class="c" transform="translate(6192 320)"><use href="#shc" xlink:href="#shc"/><circle class="n p" r="44"/></g>
<g id="n27-2" class="c" transform="translate(6192 440)"><use href="#shc" xlink:href="#shc"/><circle class="n p" r="44"/></g>
<g id="n27-3" class="c" transform="translate(6192 560)"><use href="#shc" xlink:href="#shc"/><circle class="n p" r="44"/></g>
<g id="n27-4" class="c" transform="translate(6192 680)"><use href="#shc" xlink:href="#shc"/><circle class="n p" r="44"/></g>
<g id="n27-5" class="c" transform="translate(6192 800)"><use href="#shc" xlink:href="#shc"/><circle class="n p" r="44"/></g>
<g id="n27-6" class="c" transform="translate(6192 920)"><use href="#shc" xlink:href="#shc"/><circle class="n p" r="44"/></g>
<g id="n27-7" class="c" transform="translate(6192 1040)"><use href="#shc" xlink:href="#shc"/><circle class="n p" r="44"/></g>
<g id="n27-8" class="c" transform="translate(6192 1160)"><use href="#shc" xlink:href="#shc"/><circle class="n p" r="44"/></g>
<g id="n27-9" class="c" transform="translate(6192 1280)"><use href="#shc" xlink:href="#shc"/><circle class="n p" r="44"/></g>
<g id="n27-10" class="c" transform="translate(6192 1400)"><use href="#shc" xlink:href="#shc"/><circle class="n p" r="44"/></g>
<g id="n28-0" class="c" transform="translate(6416 200)"><use href="#shc" xlink:href="#shc"/><circle class="n w" r="44"/></g>
<g id="n28-1" class="c" transform="translate(6416 320)"><use href="#shc" xlink:href="#shc"/><circle class="n p" r="44"/></g>
<g id="n28-2" class="c" transform="translate(6416 440)"><use href="#shc" xlink:href="#shc"/><circle class="n w" r="44"/></g>
<g id="n28-3" class="c" transform="translate(6416 560)"><use href="#shc" xlink:href="#shc"/><circle class="n w" r="44"/></g>
<g id="n28-4" class="c" transform="translate(6416 680)"><use href="#shc" xlink:href="#shc"/><circle class="n w" r="44"/></g>
<g id="n28-5" class="c" transform="translate(6416 800)"><use href="#shc" xlink:href="#shc"/><circle class="n w" r="44"/></g>
<g id="n28-6" class="c" transform="translate(6416 920)"><use href="#shc" xlink:href="#shc"/><circle class="n w" r="44"/></g>
<g id="n28-7" class="c" transform="translate(6416 1040)"><use href="#shc" xlink:href="#shc"/><circle class="n w" r="44"/></g>
<g id="n28-8" class="c" transform="translate(6416 1160)"><use href="#shc" xlink:href="#shc"/><circle class="n p" r="44"/></g>
<g id="n28-9" class="c" transform="translate(6416 1280)"><use href="#shc" xlink:href="#shc"/><circle class="n p" r="44"/></g>
<g id="n28-10" class="c" transform="translate(6416 1400)"><use href="#shc" xlink:href="#shc"/><circle class="n p" r="44"/></g>
<g id="n29-0" class="c" transform="translate(6640 200)"><use href="#shc" xlink:href="#shc"/><circle class="n r" r="44"/><text class="b" y="27">1</text></g>
<g id="n29-1" class="c" transform="translate(6640 320)"><use href="#shc" xlink:href="#shc"/><circle class="n p" r="44"/></g>
<g id="n29-2" class="c" transform="translate(6640 440)"><use href="#shc" xlink:href="#shc"/><circle class="n w" r="44"/></g>
<g id="n29-3" class="c" transform="translate(6640 560)"><use href="#shc" xlink:href="#shc"/><circle class="n w" r="44"/></g>
<g id="n29-4" class="c" transform="translate(6640 680)"><use href="#shc" xlink:href="#shc"/><circle class="n p" r="44"/></g>
<g id="n29-5" class="c" transform="translate(6640 800)"><use href="#shc" xlink:href="#shc"/><circle class="n p" r="44"/></g>
<g id="n29-6" class="c" transform="translate(6640 920)"><use href="#shc" xlink:href="#shc"/><circle class="n w" r="44"/></g>
<g id="n29-7" class="c" transform="translate(6640 1040)"><use href="#shc" xlink:href="#shc"/><circle class="n p" r="44"/></g>
<g id="n29-8" class="c" transform="translate(6640 1160)"><use href="#shc" xlink:href="#shc"/><circle class="n p" r="44"/></g>
<g id="n29-9" class="c" transform="translate(6640 1280)"><use href="#shc" xlink:href="#shc"/><circle class="n p" r="44"/></g>
<g id="n29-10" class="c" transform="translate(6640 1400)"><use href="#shc" xlink:href="#shc"/><circle class="n p" r="44"/></g>
<g id="n30-0" class="c" transform="translate(6864 200)"><use href="#shc" xlink:href="#shc"/><circle class="n p" r="44"/></g>
<g id="n30-1" class="c" transform="translate(6864 320)"><use href="#shc" xlink:href="#shc"/><circle class="n p" r="44"/></g>
<g id="n30-2" class="c" transform="translate(6864 440)"><use href="#shc" xlink:href="#shc"/><circle class="n p" r="44"/></g>
<g id="n30-3" class="c" transform="translate(6864 560)"><use href="#shc" xlink:href="#shc"/><circle class="n p" r="44"/></g>
<g id="n30-4" class="c" transform="translate(6864 680)"><use href="#shc" xlink:href="#shc"/><circle class="n p" r="44"/></g>
<g id="n30-5" class="c" transform="translate(6864 800)"><use href="#shc" xlink:href="#shc"/><circle class="n p" r="44"/></g>
<g id="n30-6" class="c" transform="translate(6864 920)"><use href="#shc" xlink:href="#shc"/><circle class="n p" r="44"/></g>
<g id="n30-7" class="c" transform="translate(6864 1040)"><use href="#shc" xlink:href="#shc"/><circle class="n p" r="44"/></g>
<g id="n30-8" class="c" transform="translate(6864 1160)"><use href="#shc" xlink:href="#shc"/><circle class="n p" r="44"/></g>
<g id="n30-9" class="c" transform="translate(6864 1280)"><use href="#shc" xlink:href="#shc"/><circle class="n p" r="44"/></g>
<g id="n30-10" class="c" transform="translate(6864 1400)"><use href="#shc" xlink:href="#shc"/><circle class="n p" r="44"/></g>
</g>
</svg>
